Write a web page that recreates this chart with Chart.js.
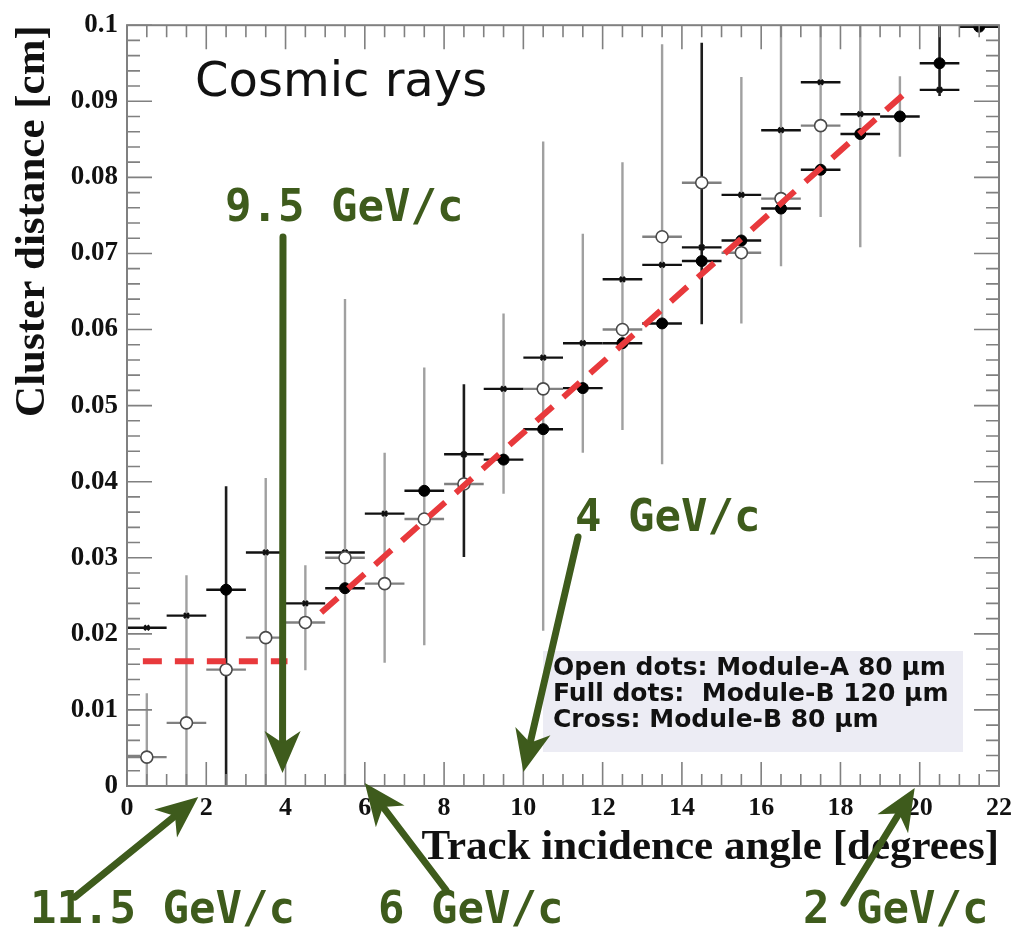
<!DOCTYPE html>
<html>
<head>
<meta charset="utf-8">
<script src="https://cdn.jsdelivr.net/npm/chart.js@4.4.0/dist/chart.umd.min.js"></script>
<style>
html, body { margin: 0; padding: 0; background: #fff; }
</style>
</head>
<body>
<canvas id="myChart" width="1019" height="937"></canvas>
<script>

// Module-A 80 um (open dots)
var openX = [0.5, 1.5, 2.5, 3.5, 4.5, 5.5, 6.5, 7.5, 8.5, 10.5, 12.5, 13.5, 14.5, 15.5, 16.5, 17.5];
var openY = [0.0038, 0.0083, 0.0153, 0.0195, 0.0215, 0.0300, 0.0266, 0.0351, 0.0397, 0.0522, 0.0600, 0.0722, 0.0793, 0.0701, 0.0772, 0.0868];

// Module-B 120 um (full dots)
var fullX = [2.5, 5.5, 7.5, 9.5, 10.5, 11.5, 12.5, 13.5, 14.5, 15.5, 16.5, 17.5, 18.5, 19.5, 20.5, 21.5];
var fullY = [0.0258, 0.0260, 0.0388, 0.0429, 0.0469, 0.0523, 0.0582, 0.0608, 0.0690, 0.0717, 0.0759, 0.0810, 0.0857, 0.0880, 0.0950, 0.0998];

// Module-B 80 um (cross)
var crossX = [0.5, 1.5, 3.5, 4.5, 5.5, 6.5, 8.5, 9.5, 10.5, 11.5, 12.5, 13.5, 14.5, 15.5, 16.5, 17.5, 18.5, 20.5];
var crossY = [0.0208, 0.0224, 0.0307, 0.0240, 0.0307, 0.0358, 0.0436, 0.0522, 0.0563, 0.0582, 0.0666, 0.0685, 0.0708, 0.0777, 0.0862, 0.0925, 0.0883, 0.0915];

// vertical error bars
var barX    = [0.5, 1.5, 2.5, 3.5, 4.5, 5.5, 6.5, 7.5, 8.5, 9.5, 10.5, 11.5, 12.5, 13.5, 14.5, 15.5, 16.5, 17.5, 18.5, 19.5, 20.5];
var barLow  = [0, 0, 0, 0, 0.0152, 0, 0.0162, 0.0185, 0.0301, 0.0384, 0.0204, 0.0438, 0.0468, 0.0423, 0.0607, 0.0608, 0.0683, 0.0748, 0.0708, 0.0827, 0.0907];
var barHigh = [0.0122, 0.0277, 0.0394, 0.0405, 0.0290, 0.0640, 0.0438, 0.0550, 0.0528, 0.0621, 0.0847, 0.0726, 0.0820, 0.0975, 0.0977, 0.0932, 0.101, 0.101, 0.101, 0.0933, 0.101];
var barDark = [false, false, true, false, false, false, false, false, true, false, false, false, false, false, true, false, false, false, false, false, true];
var binHalf = 0.5;

// red dashed fit
var flatX = [0.4, 4.05];
var flatY = [0.0164, 0.0164];
var fitX = [4.9, 19.7];
var fitY = [0.0228, 0.0914];

var xTicks = [0, 2, 4, 6, 8, 10, 12, 14, 16, 18, 20, 22];

// momentum labels: text and the angle they point at
var gevText = ['9.5 GeV/c', '4 GeV/c', '11.5 GeV/c', '6 GeV/c', '2 GeV/c'];
var gevAngle = [4, 10, 2, 6, 20];

var legendLines = ['Open dots: Module-A 80 \u03bcm', 'Full dots:  Module-B 120 \u03bcm', 'Cross: Module-B 80 \u03bcm'];

function pts(xa, ya) {
	var out = [];
	for (var i = 0; i < xa.length; i++) {
		out.push({x: xa[i], y: ya[i]});
	}
	return out;
}

var errorBars = {
	id: 'errorBars',
	beforeDatasetsDraw: function(chart) {
		var ctx = chart.ctx, xs = chart.scales.x, ys = chart.scales.y, a = chart.chartArea;
		ctx.save();
		ctx.beginPath();
		ctx.rect(a.left, a.top, a.right - a.left, a.bottom - a.top);
		ctx.clip();
		for (var i = 0; i < barX.length; i++) {
			var px = xs.getPixelForValue(barX[i]);
			ctx.strokeStyle = barDark[i] ? '#1c1c1c' : '#a0a0a0';
			ctx.lineWidth = barDark[i] ? 2.6 : 2.4;
			ctx.beginPath();
			ctx.moveTo(px, ys.getPixelForValue(barLow[i]));
			ctx.lineTo(px, ys.getPixelForValue(barHigh[i]));
			ctx.stroke();
		}
		chart.data.datasets.forEach(function(ds) {
			if (!ds.hbar) return;
			ctx.strokeStyle = ds.hbar;
			ctx.lineWidth = 2.4;
			ds.data.forEach(function(p) {
				var py = ys.getPixelForValue(p.y);
				ctx.beginPath();
				ctx.moveTo(xs.getPixelForValue(p.x - binHalf), py);
				ctx.lineTo(xs.getPixelForValue(p.x + binHalf), py);
				ctx.stroke();
			});
		});
		ctx.restore();
	}
};

var frameTicks = {
	id: 'frameTicks',
	afterDatasetsDraw: function(chart) {
		var ctx = chart.ctx, xs = chart.scales.x, ys = chart.scales.y, a = chart.chartArea;
		ctx.save();
		ctx.strokeStyle = '#808080';
		ctx.lineWidth = 2;
		ctx.strokeRect(a.left, a.top, a.right - a.left, a.bottom - a.top);
		ctx.lineWidth = 1.6;
		ctx.beginPath();
		for (var k = 0; k <= 44; k++) {
			var px = xs.getPixelForValue(k * 0.5);
			var len = (k % 4 === 0) ? 24 : 12;
			ctx.moveTo(px, a.bottom); ctx.lineTo(px, a.bottom - len);
			ctx.moveTo(px, a.top); ctx.lineTo(px, a.top + len);
		}
		for (var j = 0; j <= 50; j++) {
			var py = ys.getPixelForValue(j * 0.002);
			var l2 = (j % 5 === 0) ? 25 : 13;
			ctx.moveTo(a.left, py); ctx.lineTo(a.left + l2, py);
			ctx.moveTo(a.right, py); ctx.lineTo(a.right - l2, py);
		}
		ctx.stroke();
		ctx.restore();
	}
};

function arrow(ctx, x0, y0, x1, y1, w, head) {
	var ang = Math.atan2(y1 - y0, x1 - x0);
	var bx = x1 - Math.cos(ang) * head, by = y1 - Math.sin(ang) * head;
	ctx.lineWidth = w;
	ctx.lineCap = 'round';
	ctx.beginPath();
	ctx.moveTo(x0, y0);
	ctx.lineTo(bx + Math.cos(ang) * 4, by + Math.sin(ang) * 4);
	ctx.stroke();
	var hw = head * 0.5;
	ctx.beginPath();
	ctx.moveTo(x1, y1);
	ctx.lineTo(bx - Math.sin(ang) * hw - Math.cos(ang) * 6, by + Math.cos(ang) * hw - Math.sin(ang) * 6);
	ctx.lineTo(bx + Math.cos(ang) * 6, by + Math.sin(ang) * 6);
	ctx.lineTo(bx + Math.sin(ang) * hw - Math.cos(ang) * 6, by - Math.cos(ang) * hw - Math.sin(ang) * 6);
	ctx.closePath();
	ctx.fill();
}

var notes = {
	id: 'notes',
	afterDraw: function(chart) {
		var ctx = chart.ctx, xs = chart.scales.x, a = chart.chartArea;
		ctx.save();

		// legend box
		ctx.fillStyle = '#ececf4';
		ctx.fillRect(543, 651, 420, 101);
		ctx.fillStyle = '#111';
		ctx.font = 'bold 25px "DejaVu Sans"';
		ctx.textBaseline = 'middle';
		ctx.textAlign = 'left';
		for (var i = 0; i < legendLines.length; i++) {
			ctx.fillText(legendLines[i], 553, 668 + i * 26, 400);
		}

		ctx.font = '48px "DejaVu Sans"';
		ctx.fillStyle = '#111';
		ctx.fillText('Cosmic rays', 195, 84, 298);

		// green momentum labels and arrows
		var green = '#3e5b1c';
		ctx.fillStyle = green;
		ctx.strokeStyle = green;
		ctx.font = 'bold 44px "DejaVu Sans Mono"';
		var textPos = [[225, 210, 248], [575, 520, 205], [30, 912, 278], [378, 912, 202], [803, 912, 200]];
		var tails = [[283, 237], [578, 537], [75, 897], [446, 890], [844, 903]];
		var tipY = [a.bottom - 13, a.bottom - 14, a.bottom + 11, a.bottom - 3, a.bottom + 2];
		for (var g = 0; g < gevText.length; g++) {
			ctx.fillText(gevText[g], textPos[g][0], textPos[g][1], textPos[g][2]);
			var tx = xs.getPixelForValue(gevAngle[g]);
			if (g === 0) tx -= 3;
			if (g === 2) tx -= 8;
			if (g === 4) tx -= 5;
			arrow(ctx, tails[g][0], tails[g][1], tx, tipY[g], 7, 36);
		}
		ctx.restore();
	}
};

var ctx = document.getElementById('myChart').getContext('2d');
var chart = new Chart(ctx, {
	type: 'scatter',
	data: {
		datasets: [
			{
				type: 'line',
				data: pts(flatX, flatY),
				borderColor: '#e8393c',
				borderWidth: 6,
				borderDash: [19, 13],
				pointRadius: 0,
				fill: false
			},
			{
				type: 'line',
				data: pts(fitX, fitY),
				borderColor: '#e8393c',
				borderWidth: 6,
				borderDash: [22, 14],
				pointRadius: 0,
				fill: false
			},
			{
				label: 'Open dots: Module-A 80 um',
				data: pts(openX, openY),
				pointStyle: 'circle',
				pointRadius: 6,
				backgroundColor: '#ffffff',
				borderColor: '#4a4a4a',
				borderWidth: 1.6,
				hbar: '#808080'
			},
			{
				label: 'Full dots: Module-B 120 um',
				data: pts(fullX, fullY),
				pointStyle: 'circle',
				pointRadius: 5.5,
				backgroundColor: '#000000',
				borderColor: '#000000',
				borderWidth: 1,
				hbar: '#111111'
			},
			{
				label: 'Cross: Module-B 80 um',
				data: pts(crossX, crossY),
				pointStyle: 'crossRot',
				pointRadius: 3.5,
				backgroundColor: '#111111',
				borderColor: '#111111',
				borderWidth: 2.5,
				hbar: '#111111'
			}
		]
	},
	options: {
		responsive: false,
		animation: false,
		events: [],
		layout: {
			padding: {left: 3, right: 16, top: 23, bottom: 59}
		},
		plugins: {
			legend: {display: false},
			tooltip: {enabled: false}
		},
		scales: {
			x: {
				type: 'linear',
				min: 0,
				max: 22,
				afterBuildTicks: function(scale) {
					scale.ticks = xTicks.map(function(v) { return {value: v}; });
				},
				afterFit: function(scale) { scale.height = 92; },
				grid: {display: false, drawTicks: false},
				border: {display: false},
				ticks: {
					padding: 7,
					color: '#111',
					font: {family: '"Liberation Serif"', size: 26, weight: 'bold'}
				},
				title: {
					display: true,
					text: 'Track incidence angle [degrees]',
					align: 'end',
					color: '#111',
					padding: 4,
					font: {family: '"Liberation Serif"', size: 43, weight: 'bold'}
				}
			},
			y: {
				type: 'linear',
				min: 0,
				max: 0.1,
				afterFit: function(scale) { scale.width = 124; },
				grid: {display: false, drawTicks: false},
				border: {display: false},
				ticks: {
					stepSize: 0.01,
					padding: 9,
					color: '#111',
					font: {family: '"Liberation Serif"', size: 27, weight: 'bold'},
					callback: function(v) { return v === 0 ? '0' : String(+v.toFixed(2)); }
				},
				title: {
					display: true,
					text: 'Cluster distance [cm]',
					align: 'end',
					color: '#111',
					padding: 4,
					font: {family: '"Liberation Serif"', size: 43, weight: 'bold'}
				}
			}
		}
	},
	plugins: [errorBars, frameTicks, notes]
});

</script>
</body>
</html>
